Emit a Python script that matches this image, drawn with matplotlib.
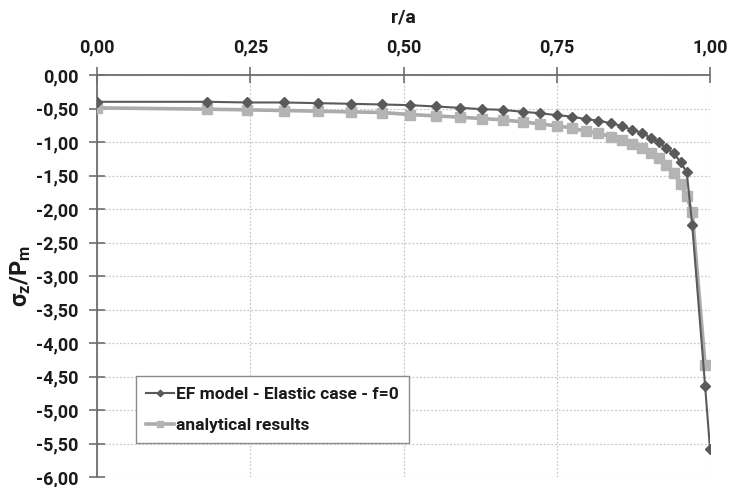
import matplotlib
matplotlib.use("Agg")
import matplotlib.pyplot as plt
from matplotlib.ticker import FuncFormatter, FixedLocator

FONT = 'Roboto'
plt.rcParams['font.family'] = [FONT, 'DejaVu Sans']
plt.rcParams['mathtext.fontset'] = 'custom'
plt.rcParams['mathtext.rm'] = FONT + ':bold'
plt.rcParams['mathtext.it'] = FONT + ':bold'
plt.rcParams['mathtext.bf'] = FONT + ':bold'

# Data
r_ef = [0.00, 0.18, 0.245, 0.305, 0.36, 0.415, 0.465, 0.51, 0.553, 0.592, 0.628,
        0.662, 0.695, 0.723, 0.75, 0.775, 0.797, 0.818, 0.838, 0.856, 0.873,
        0.889, 0.903, 0.916, 0.929, 0.941, 0.952, 0.962, 0.971, 0.992, 1.00]
s_ef = [-0.40, -0.40, -0.41, -0.41, -0.42, -0.43, -0.44, -0.45, -0.47, -0.49, -0.51,
        -0.52, -0.55, -0.57, -0.60, -0.62, -0.66, -0.68, -0.72, -0.76, -0.82,
        -0.86, -0.94, -1.00, -1.09, -1.17, -1.30, -1.45, -2.24, -4.64, -5.58]
r_an = [0.00, 0.18, 0.245, 0.305, 0.36, 0.415, 0.465, 0.51, 0.553, 0.592, 0.628,
        0.662, 0.695, 0.723, 0.75, 0.775, 0.797, 0.818, 0.838, 0.856, 0.873,
        0.889, 0.903, 0.916, 0.929, 0.941, 0.952, 0.962, 0.971, 0.992]
s_an = [-0.49, -0.51, -0.52, -0.53, -0.54, -0.55, -0.56, -0.59, -0.61, -0.63, -0.65,
        -0.67, -0.70, -0.73, -0.76, -0.79, -0.84, -0.87, -0.92, -0.97, -1.03,
        -1.09, -1.16, -1.24, -1.34, -1.46, -1.63, -1.81, -2.05, -4.33]
x_ticks = [0.0, 0.25, 0.5, 0.75, 1.0]
y_ticks = [0.0, -0.5, -1.0, -1.5, -2.0, -2.5, -3.0, -3.5, -4.0, -4.5, -5.0, -5.5, -6.0]
label_ef = "EF model - Elastic case - f=0"
label_an = "analytical results"

fig = plt.figure(figsize=(7.3, 4.87), dpi=100)
ax = fig.add_axes([97/730, 1-477/487, (710-97)/730, (477-75)/487])

ax.plot(r_an, s_an, color='#ababab', lw=2.6, marker='s', ms=7.5,
        mec='#b4b4b4', mfc='#b4b4b4', label=label_an, zorder=3)
ax.plot(r_ef, s_ef, color='#5a5a5a', lw=1.5, marker='D', ms=5.5,
        mec='#5a5a5a', mfc='#5a5a5a', label=label_ef, zorder=4)

ax.set_xlim(0, 1.0)
ax.set_ylim(-6.0, 0.0)
ax.xaxis.set_major_locator(FixedLocator(x_ticks))
ax.yaxis.set_major_locator(FixedLocator(y_ticks))
fmt = FuncFormatter(lambda v, p: f"{v:.2f}".replace('.', ','))
ax.xaxis.set_major_formatter(fmt)
ax.yaxis.set_major_formatter(fmt)
ax.xaxis.tick_top()
ax.xaxis.set_label_position('top')

ax.grid(True, color='#c8c8c8', linestyle=(0, (1.5, 1.5)), linewidth=0.9)
ax.set_axisbelow(True)

for s in ['right', 'bottom']:
    ax.spines[s].set_visible(False)
for s in ['left', 'top']:
    ax.spines[s].set_color('#6e6e6e')
    ax.spines[s].set_linewidth(1.3)

ax.tick_params(axis='both', direction='inout', length=11, width=1.2, color='#6e6e6e',
               labelsize=13, labelcolor='#1a1a1a')
ax.tick_params(axis='x', pad=8)
ax.tick_params(axis='y', pad=8)
for lab in ax.get_xticklabels() + ax.get_yticklabels():
    lab.set_fontweight('bold')

ax.set_xlabel('r/a', fontsize=14, fontweight='bold', color='#1a1a1a', labelpad=11)
ax.set_ylabel(r'$\sigma_z/P_m$', fontsize=17, color='#1a1a1a', labelpad=2)

handles, labels = ax.get_legend_handles_labels()
leg = ax.legend(handles[::-1], labels[::-1], loc='lower left',
                bbox_to_anchor=((136-97)/613, (477-443)/402), borderaxespad=0,
                fancybox=False, edgecolor='#8c8c8c', framealpha=1,
                prop={'weight': 'bold', 'size': 12.5}, handlelength=1.6,
                handletextpad=0.1, borderpad=0.6, labelspacing=0.9, markerscale=0.6)
leg.get_frame().set_linewidth(1.0)
for t in leg.get_texts():
    t.set_color('#1a1a1a')

fig.savefig('out.png', dpi=100)
